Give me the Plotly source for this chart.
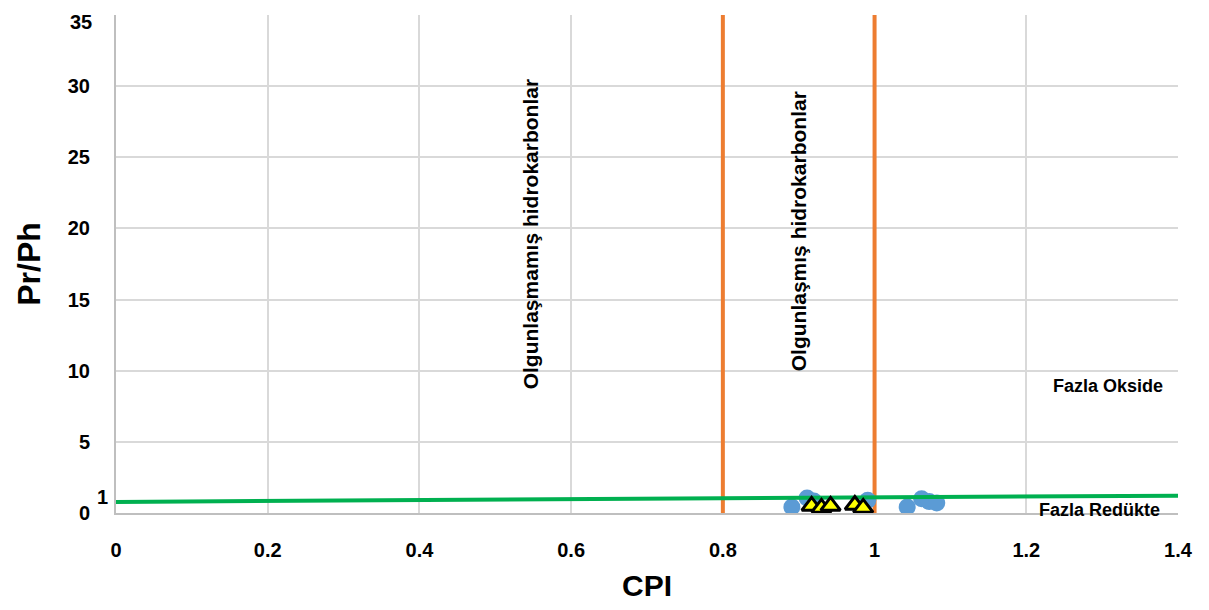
import plotly.graph_objects as go

# Data
circle_cpi = [0.891, 0.911, 0.920, 0.991, 1.043, 1.062, 1.072, 1.082]
circle_prph = [0.42, 1.05, 0.85, 0.90, 0.42, 1.00, 0.80, 0.70]
tri_cpi = [0.917, 0.930, 0.942, 0.974, 0.985]
tri_prph = [0.50, 0.36, 0.50, 0.56, 0.36]
green_x = [0.0, 1.4]
green_y = [0.78, 1.22]
orange_x = [0.8, 1.0]
y_range = [0, 35]
x_ticks = [0, 0.2, 0.4, 0.6, 0.8, 1.0, 1.2, 1.4]
x_ticklabels = ["0", "0.2", "0.4", "0.6", "0.8", "1", "1.2", "1.4"]
y_ticks = [0, 5, 10, 15, 20, 25, 30, 35]
y_ticklabels = ["0", "5", "10", "15", "20", "25", "30", "35"]

FONT = "Liberation Sans, Arial, sans-serif"
fig = go.Figure()

for xv in orange_x:
    fig.add_trace(go.Scatter(x=[xv, xv], y=y_range, mode="lines",
                             line=dict(color="#ed7d31", width=4), showlegend=False, hoverinfo="skip"))

fig.add_trace(go.Scatter(x=circle_cpi, y=circle_prph, mode="markers",
                         marker=dict(symbol="circle", size=17, color="#5b9bd5"), showlegend=False))
fig.add_trace(go.Scatter(x=green_x, y=green_y, mode="lines",
                         line=dict(color="#00b050", width=4), showlegend=False))
fig.add_trace(go.Scatter(x=tri_cpi, y=tri_prph, mode="markers",
                         marker=dict(symbol="triangle-up", size=17, color="#ffff00",
                                     line=dict(color="#000000", width=3)), showlegend=False))

fig.update_layout(
    width=1209, height=610,
    margin=dict(l=108, r=39, t=7, b=105, autoexpand=False),
    paper_bgcolor="white", plot_bgcolor="white",
    font=dict(family=FONT, color="#000000"),
    xaxis=dict(range=[0, 1.4], tickvals=x_ticks, ticktext=x_ticklabels,
               showgrid=True, gridcolor="#d9d9d9", gridwidth=2,
               showline=True, linecolor="#bfbfbf", linewidth=2,
               zeroline=False, ticks="", ticklen=0, automargin=False,
               ticklabelstandoff=18,
               tickfont=dict(size=20, family=FONT, weight="bold"),
               title=dict(text="<b>CPI</b>", font=dict(size=30, family=FONT), standoff=15)),
    yaxis=dict(range=y_range, tickvals=y_ticks, ticktext=y_ticklabels[:-1] + [""],
               showgrid=True, gridcolor="#d9d9d9", gridwidth=2,
               showline=True, linecolor="#bfbfbf", linewidth=2,
               zeroline=False, ticks="", ticklabelstandoff=20, automargin=False,
               tickfont=dict(size=20, family=FONT, weight="bold"),
               title=dict(text="<b>Pr/Ph</b>", font=dict(size=32, family=FONT), standoff=18)),
)

annots = [
    dict(x=0.546, y=19.6, text="<b>Olgunlaşmamış hidrokarbonlar</b>", textangle=-90, size=21),
    dict(x=0.899, y=19.8, text="<b>Olgunlaşmış hidrokarbonlar</b>", textangle=-90, size=21),
    dict(x=1.308, y=8.9, text="<b>Fazla Okside</b>", textangle=0, size=18),
    dict(x=1.297, y=0.2, text="<b>Fazla Redükte</b>", textangle=0, size=18),
]
for a in annots:
    fig.add_annotation(x=a["x"], y=a["y"], text=a["text"], textangle=a["textangle"],
                       showarrow=False, font=dict(size=a["size"], family=FONT, color="#000000"))

# top tick label, kept inside the page edge
fig.add_annotation(x=0, y=y_ticks[-1], xref="x", yref="y", text="<b>" + y_ticklabels[-1] + "</b>",
                   showarrow=False, xanchor="right", yanchor="top", xshift=-22, yshift=6,
                   font=dict(size=20, family=FONT, color="#000000"))

fig.add_annotation(x=0, y=1.1, xref="x", yref="y", text="<b>1</b>", showarrow=False,
                   xanchor="right", xshift=-6, font=dict(size=20, family=FONT, color="#000000"))

fig.write_html("out.html")
